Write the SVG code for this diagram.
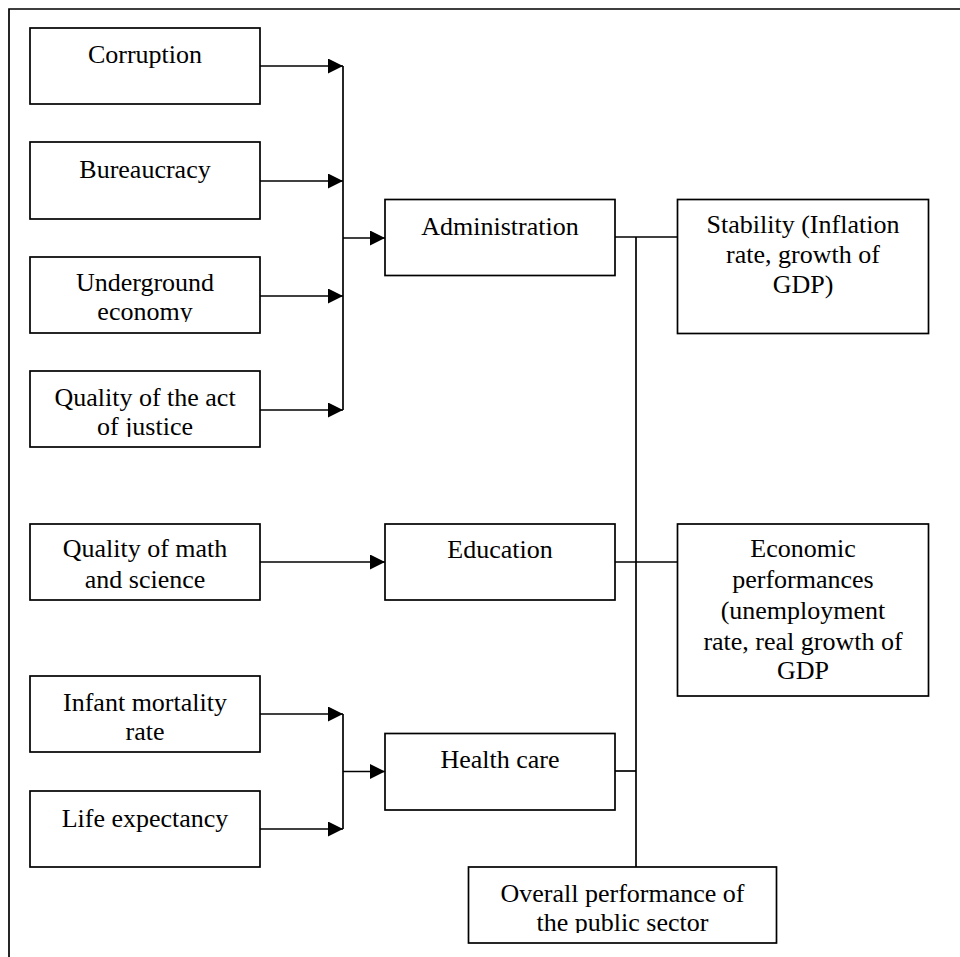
<svg xmlns="http://www.w3.org/2000/svg" width="960" height="957" viewBox="0 0 960 957">
<style>
.box{fill:#fff;stroke:#000;stroke-width:1.7}
.ln{fill:none;stroke:#000;stroke-width:1.7}
.t{font-family:"Liberation Serif","Times New Roman",serif;font-size:26px;fill:#000;text-anchor:middle}
</style>
<defs>
<marker id="ah" markerUnits="userSpaceOnUse" markerWidth="16" markerHeight="16" refX="15" refY="7.5" orient="auto">
<path d="M0,0 L15,7.5 L0,15 z" fill="#000"/>
</marker>
<clipPath id="cUnder"><rect x="30" y="257" width="230" height="65"/></clipPath>
<clipPath id="cJust"><rect x="30" y="371" width="230" height="66"/></clipPath>
<clipPath id="cOver"><rect x="468" y="867" width="309" height="66"/></clipPath>
</defs>
<rect width="960" height="957" fill="#fff"/>
<path class="ln" d="M9,957 V9 H960"/>
<g id="connectors">
<path class="ln" d="M260,66 H343" marker-end="url(#ah)"/>
<path class="ln" d="M260,181 H343" marker-end="url(#ah)"/>
<path class="ln" d="M260,296 H343" marker-end="url(#ah)"/>
<path class="ln" d="M260,410 H343" marker-end="url(#ah)"/>
<path class="ln" d="M343,66 V410"/>
<path class="ln" d="M343,238 H385" marker-end="url(#ah)"/>
<path class="ln" d="M260,562 H385" marker-end="url(#ah)"/>
<path class="ln" d="M260,714 H343" marker-end="url(#ah)"/>
<path class="ln" d="M260,829 H343" marker-end="url(#ah)"/>
<path class="ln" d="M343,714 V829"/>
<path class="ln" d="M343,771.5 H385" marker-end="url(#ah)"/>
<path class="ln" d="M615,237 H677.5"/>
<path class="ln" d="M615,562 H677.5"/>
<path class="ln" d="M615,771 H636"/>
<path class="ln" d="M636,237 V867"/>
</g>
<g id="corruption"><rect class="box" x="30" y="28" width="230" height="76"/><text class="t" x="145" y="63">Corruption</text></g>
<g id="bureaucracy"><rect class="box" x="30" y="142" width="230" height="77"/><text class="t" x="145" y="178">Bureaucracy</text></g>
<g id="underground"><rect class="box" x="30" y="257" width="230" height="76"/><g clip-path="url(#cUnder)"><text class="t" x="145" y="291">Underground</text><text class="t" x="145" y="320">economy</text></g></g>
<g id="justice"><rect class="box" x="30" y="371" width="230" height="76"/><g clip-path="url(#cJust)"><text class="t" x="145" y="406">Quality of the act</text><text class="t" x="145" y="435">of justice</text></g></g>
<g id="math"><rect class="box" x="30" y="524" width="230" height="76"/><text class="t" x="145" y="557">Quality of math</text><text class="t" x="145" y="588">and science</text></g>
<g id="infant"><rect class="box" x="30" y="676" width="230" height="76"/><text class="t" x="145" y="711">Infant mortality</text><text class="t" x="145" y="740">rate</text></g>
<g id="life"><rect class="box" x="30" y="791" width="230" height="76"/><text class="t" x="145" y="827">Life expectancy</text></g>
<g id="administration"><rect class="box" x="385" y="199.5" width="230" height="76"/><text class="t" x="500" y="235">Administration</text></g>
<g id="education"><rect class="box" x="385" y="524" width="230" height="76"/><text class="t" x="500" y="558">Education</text></g>
<g id="health"><rect class="box" x="385" y="733.5" width="230" height="76.5"/><text class="t" x="500" y="768">Health care</text></g>
<g id="stability"><rect class="box" x="677.5" y="199.5" width="251" height="134"/><text class="t" x="803" y="233">Stability (Inflation</text><text class="t" x="803" y="263">rate, growth of</text><text class="t" x="803" y="293">GDP)</text></g>
<g id="economic"><rect class="box" x="677.5" y="524" width="251" height="172"/><text class="t" x="803" y="557">Economic</text><text class="t" x="803" y="588">performances</text><text class="t" x="803" y="619">(unemployment</text><text class="t" x="803" y="650">rate, real growth of</text><text class="t" x="803" y="679">GDP</text></g>
<g id="overall"><rect class="box" x="468.5" y="867" width="308" height="76"/><g clip-path="url(#cOver)"><text class="t" x="622.5" y="902">Overall performance of</text><text class="t" x="622.5" y="931">the public sector</text></g></g>
</svg>
